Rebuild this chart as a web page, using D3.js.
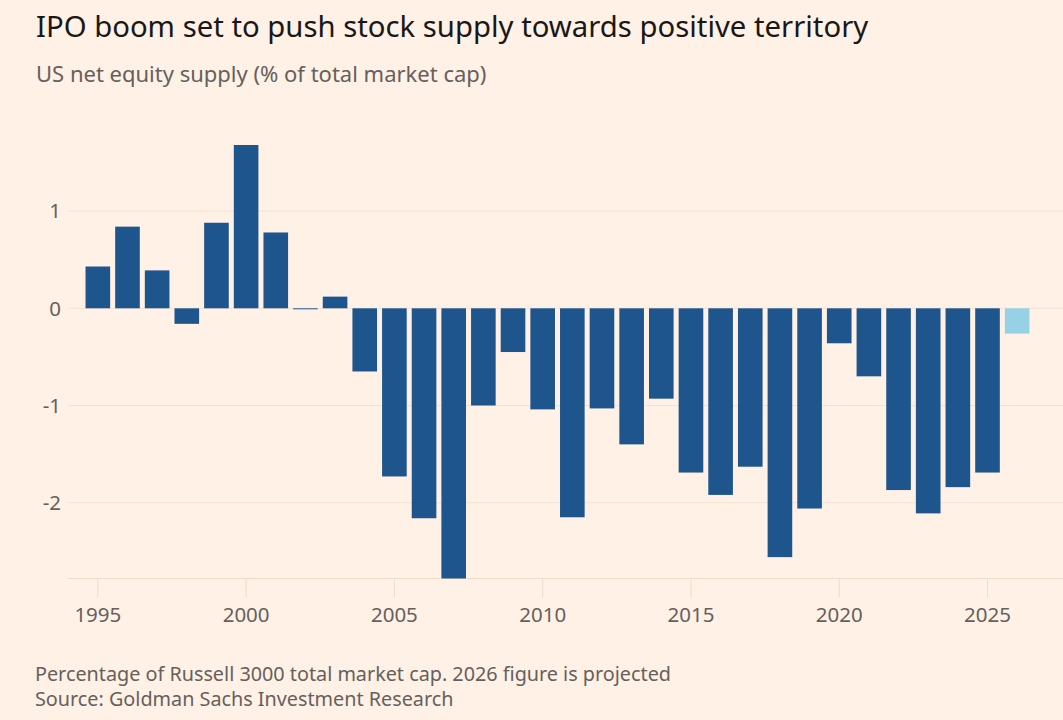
<!DOCTYPE html>
<html>
<head>
<meta charset="utf-8">
<script src="https://cdn.jsdelivr.net/npm/d3@7"></script>
<style>
  body { margin: 0; background: #fff1e5; }
  svg { display: block; font-family: "Noto Sans", "Open Sans", sans-serif; }
</style>
</head>
<body>
<div class="chart"></div>
<script>
const svgWidth = 1063;
const svgHeight = 720;

// data
const years = d3.range(1995, 2027);
const supply = [0.43, 0.84, 0.39, -0.16, 0.88, 1.68, 0.78, -0.01, 0.12, -0.65,
  -1.73, -2.16, -2.78, -1.00, -0.45, -1.04, -2.15, -1.03, -1.40, -0.93,
  -1.69, -1.92, -1.63, -2.56, -2.06, -0.36, -0.70, -1.87, -2.11, -1.84,
  -1.69, -0.26];
const projectedYears = [2026];
const yTicks = [1, 0, -1, -2];
const xTicks = [1995, 2000, 2005, 2010, 2015, 2020, 2025];

const title = "IPO boom set to push stock supply towards positive territory";
const subtitle = "US net equity supply (% of total market cap)";
const notes = ["Percentage of Russell 3000 total market cap. 2026 figure is projected",
  "Source: Goldman Sachs Investment Research"];

const svg = d3.select(".chart")
  .append("svg")
  .attr("width", svgWidth)
  .attr("height", svgHeight);

svg.append("rect")
  .attr("width", svgWidth)
  .attr("height", svgHeight)
  .attr("fill", "#fff1e5");

// scales
const xScale = d3.scaleBand()
  .domain(years)
  .range([83, 1032])
  .paddingInner(0.17)
  .paddingOuter(0.085);

const yScale = d3.scaleLinear()
  .domain([d3.min(supply), d3.max(supply)])
  .range([578.5, 145]);

const gridLeft = 68;
const gridRight = svgWidth;

// grid lines
svg.append("g")
  .selectAll("line")
  .data(yTicks)
  .enter()
  .append("line")
  .attr("x1", gridLeft)
  .attr("x2", gridRight)
  .attr("y1", d => yScale(d))
  .attr("y2", d => yScale(d))
  .attr("stroke", "#f3e2d3")
  .attr("stroke-width", 1);

// y labels
svg.append("g")
  .selectAll("text")
  .data(yTicks)
  .enter()
  .append("text")
  .attr("x", 61)
  .attr("y", d => yScale(d))
  .attr("dy", "0.36em")
  .attr("text-anchor", "end")
  .attr("font-size", 20.5)
  .attr("fill", "#66605c")
  .text(d => d);

// bottom axis
const xAxis = d3.axisBottom(xScale)
  .tickValues(xTicks)
  .tickSize(19)
  .tickPadding(10)
  .tickSizeOuter(0);

const axisG = svg.append("g")
  .attr("transform", `translate(0, ${yScale(d3.min(supply))})`)
  .call(xAxis);

axisG.select(".domain").remove();
axisG.insert("line", ":first-child")
  .attr("x1", gridLeft)
  .attr("x2", gridRight)
  .attr("stroke", "#eedccc");
axisG.selectAll(".tick line").attr("stroke", "#eedccc");
axisG.selectAll(".tick text")
  .attr("font-size", 20.5)
  .attr("font-family", "\"Noto Sans\", sans-serif")
  .attr("fill", "#66605c");

// bars
svg.append("g")
  .selectAll("rect")
  .data(supply)
  .enter()
  .append("rect")
  .attr("x", (d, i) => xScale(years[i]))
  .attr("width", xScale.bandwidth())
  .attr("y", d => yScale(Math.max(0, d)))
  .attr("height", d => Math.max(1, Math.abs(yScale(d) - yScale(0))))
  .attr("fill", (d, i) => projectedYears.includes(years[i]) ? "#96d1e6" : "#1f558d");

// titles
svg.append("text")
  .attr("x", 36)
  .attr("y", 37)
  .attr("font-size", 29.3)
  .attr("fill", "#1a1817")
  .text(title);

svg.append("text")
  .attr("x", 36)
  .attr("y", 82)
  .attr("font-size", 22)
  .attr("fill", "#66605c")
  .text(subtitle);

svg.append("g")
  .selectAll("text")
  .data(notes)
  .enter()
  .append("text")
  .attr("x", 35)
  .attr("y", (d, i) => 681 + i * 25)
  .attr("font-size", 19.8)
  .attr("fill", "#66605c")
  .text(d => d);
</script>
</body>
</html>
